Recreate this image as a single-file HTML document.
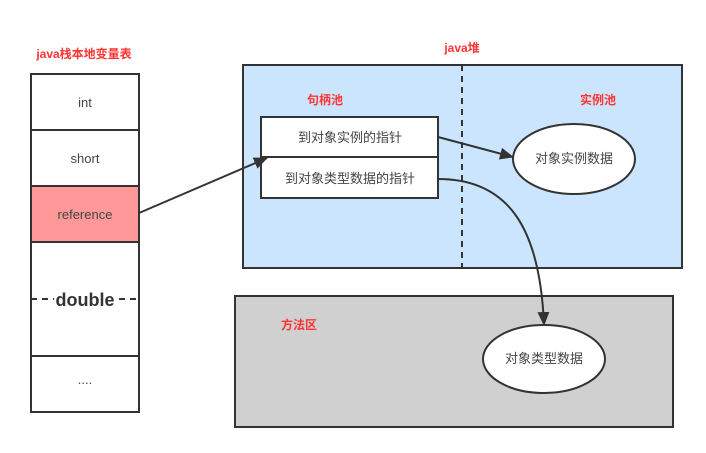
<!DOCTYPE html>
<html><head><meta charset="utf-8"><style>
html,body{margin:0;padding:0;background:#fff;}
svg{display:block;}
text{font-family:"Liberation Sans","Noto Sans CJK SC",sans-serif;}
</style></head><body>
<svg width="706" height="453" viewBox="0 0 706 453" xmlns="http://www.w3.org/2000/svg">
<defs>
<marker id="b" markerWidth="14" markerHeight="14" refX="13" refY="7" orient="auto" markerUnits="userSpaceOnUse" viewBox="0 0 14 14"><path d="M0,1 L14,7 L0,13 z" fill="#333"/></marker></defs>
<text x="84" y="58" font-size="12" font-weight="bold" fill="#ff3333" text-anchor="middle">java栈本地变量表</text>
<g stroke="#333" stroke-width="2">
<rect x="31" y="74" width="108" height="56" fill="#fff"/>
<rect x="31" y="130" width="108" height="56" fill="#fff"/>
<rect x="31" y="186" width="108" height="56" fill="#ff9999"/>
<rect x="31" y="242" width="108" height="114" fill="#fff"/>
<rect x="31" y="356" width="108" height="56" fill="#fff"/>
</g>
<line x1="31" y1="299" x2="139" y2="299" stroke="#333" stroke-width="2" stroke-dasharray="6,5"/>
<g font-size="13" fill="#444" text-anchor="middle">
<text x="85" y="107">int</text><text x="85" y="163">short</text><text x="85" y="219">reference</text>
<text x="85" y="384">....</text></g>
<rect x="54" y="289" width="62" height="20" fill="#fff"/>
<text x="85" y="306" font-size="18" font-weight="bold" fill="#333" text-anchor="middle">double</text>
<text x="462" y="52" font-size="12" font-weight="bold" fill="#ff3333" text-anchor="middle">java堆</text>
<rect x="243" y="65" width="439" height="203" fill="#cce5ff" stroke="#333" stroke-width="2"/>
<line x1="462" y1="65" x2="462" y2="268" stroke="#333" stroke-width="2" stroke-dasharray="6,5"/>
<text x="325" y="104" font-size="12" font-weight="bold" fill="#ff3333" text-anchor="middle">句柄池</text>
<text x="598" y="104" font-size="12" font-weight="bold" fill="#ff3333" text-anchor="middle">实例池</text>
<rect x="261" y="117" width="177" height="40" fill="#fff" stroke="#333" stroke-width="2"/>
<rect x="261" y="157" width="177" height="41" fill="#fff" stroke="#333" stroke-width="2"/>
<text x="350" y="142" font-size="13" fill="#444" text-anchor="middle">到对象实例的指针</text>
<text x="350" y="183" font-size="13" fill="#444" text-anchor="middle">到对象类型数据的指针</text>
<ellipse cx="574" cy="159" rx="61" ry="35" fill="#fff" stroke="#333" stroke-width="2"/>
<text x="574" y="163" font-size="13" fill="#444" text-anchor="middle">对象实例数据</text>
<rect x="235" y="296" width="438" height="131" fill="#d0d0d0" stroke="#333" stroke-width="2"/>
<text x="299" y="329" font-size="12" font-weight="bold" fill="#ff3333" text-anchor="middle">方法区</text>
<ellipse cx="544" cy="359" rx="61" ry="34" fill="#fff" stroke="#333" stroke-width="2"/>
<text x="544" y="363" font-size="13" fill="#444" text-anchor="middle">对象类型数据</text>
<g stroke="#333" stroke-width="2" fill="none">
<line x1="139" y1="213" x2="267" y2="158" marker-end="url(#b)"/>
<line x1="438" y1="137" x2="513" y2="157" marker-end="url(#b)"/>
<path d="M438,179 C510,179 540,230 544,325" marker-end="url(#b)"/>
</g>
</svg>
</body></html>
